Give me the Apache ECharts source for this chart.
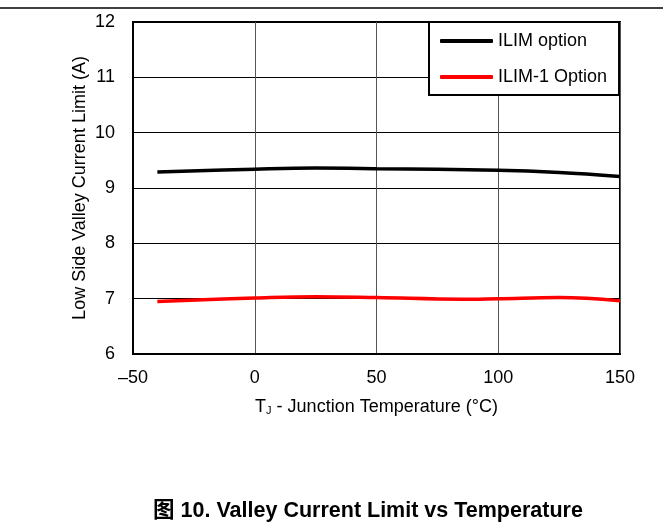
<!DOCTYPE html>
<html><head><meta charset="utf-8">
<script src="https://cdn.jsdelivr.net/npm/echarts@6/dist/echarts.min.js"></script>
<style>html,body{margin:0;padding:0;background:#fff}#c{width:663px;height:524px}</style>
</head><body><div id="c"></div>
<script>
const ilimTemps = [-40, 0, 25, 50, 100, 125, 150];
const ilimValues = [9.29, 9.34, 9.36, 9.35, 9.32, 9.28, 9.21];
const ilim1Temps = [-40, 0, 25, 50, 85, 100, 125, 150];
const ilim1Values = [6.95, 7.01, 7.035, 7.02, 6.99, 7.0, 7.02, 6.96];
const xTicks = [-50, 0, 50, 100, 150];
const yTicks = [6, 7, 8, 9, 10, 11, 12];
const seriesNames = ['ILIM option', 'ILIM-1 Option'];
const caption = '图 10. Valley Current Limit vs Temperature';

const font = 'Arial, "Liberation Sans", "Noto Sans CJK SC", sans-serif';
const chart = echarts.init(document.getElementById('c'));
chart.setOption({
  animation: false,
  grid: {left: 133, right: 43, top: 22, bottom: 170, show: true, borderColor: '#000', borderWidth: 2, containLabel: false},
  legend: {
    data: seriesNames, orient: 'vertical', left: 429, top: 22,
    icon: 'roundRect',
    backgroundColor: '#fff', borderColor: '#000', borderWidth: 2,
    padding: [10, 12, 9, 11], itemGap: 18, itemWidth: 53, itemHeight: 4,
    textStyle: {fontFamily: font, fontSize: 18, color: '#000'}
  },
  xAxis: {
    type: 'value', min: xTicks[0], max: xTicks[xTicks.length - 1], interval: 50,
    axisLine: {show: true, onZero: false, lineStyle: {color: '#000', width: 2}},
    axisTick: {show: false},
    splitLine: {show: true, lineStyle: {color: '#555', width: 1}},
    axisLabel: {margin: 15, fontFamily: font, fontSize: 18, color: '#000',
      formatter: v => v < 0 ? '\u2013' + Math.abs(v) : String(v)},
    name: '{t|T}{s|J}{t| - Junction Temperature (°C)}', nameLocation: 'middle', nameGap: 44,
    nameMoveOverlap: false,
    nameTextStyle: {rich: {
      t: {fontFamily: font, fontSize: 18, color: '#000'},
      s: {fontFamily: font, fontSize: 11, color: '#000', verticalAlign: 'bottom', padding: [7, 0, 0, 0]}
    }}
  },
  yAxis: {
    type: 'value', min: yTicks[0], max: yTicks[yTicks.length - 1], interval: 1,
    axisLine: {show: true, onZero: false, lineStyle: {color: '#000', width: 2}},
    axisTick: {show: false},
    splitLine: {show: true, lineStyle: {color: '#000', width: 1}},
    axisLabel: {margin: 18, fontFamily: font, fontSize: 18, color: '#000'},
    name: 'Low Side Valley Current Limit (A)', nameLocation: 'middle', nameGap: 44,
    nameMoveOverlap: false,
    nameTextStyle: {fontFamily: font, fontSize: 18, color: '#000'}
  },
  graphic: [
    {type: 'line', shape: {x1: 0, y1: 8, x2: 663, y2: 8}, style: {stroke: '#000', lineWidth: 1.5}},
    {type: 'text', x: 368, y: 511, style: {text: caption, textAlign: 'center', textVerticalAlign: 'middle',
      font: 'bold 21.5px ' + font, fill: '#000'}}
  ],
  series: [
    {name: seriesNames[0], type: 'line', symbol: 'none', smooth: 0.4, z: 3,
      lineStyle: {color: '#000', width: 3.5}, itemStyle: {color: '#000'},
      data: ilimTemps.map((t, i) => [t, ilimValues[i]])},
    {name: seriesNames[1], type: 'line', symbol: 'none', smooth: 0.4, z: 3,
      lineStyle: {color: '#ff0000', width: 3.5}, itemStyle: {color: '#ff0000'},
      data: ilim1Temps.map((t, i) => [t, ilim1Values[i]])}
  ]
});
</script></body></html>
